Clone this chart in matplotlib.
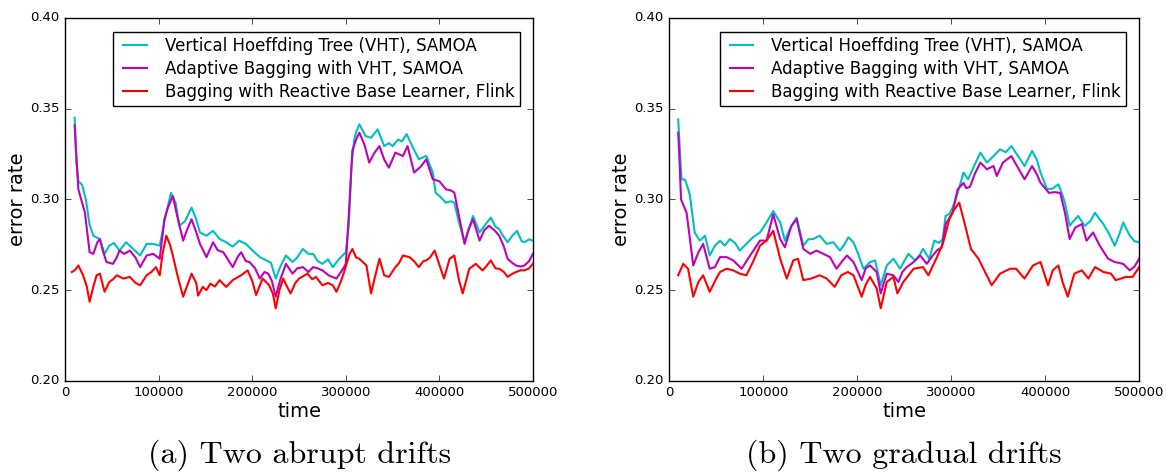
import matplotlib
matplotlib.use("Agg")
import matplotlib.pyplot as plt

plt.style.use("classic")
plt.rcParams["font.family"] = ["DejaVu Sans"]

labels = [
    "Vertical Hoeffding Tree (VHT), SAMOA",
    "Adaptive Bagging with VHT, SAMOA",
    "Bagging with Reactive Base Learner, Flink",
]
captions = ["(a) Two abrupt drifts", "(b) Two gradual drifts"]

# (a) abrupt drifts
a_vht_t = [10000, 12000, 14000, 18000, 22000, 26000, 30000, 37000, 42000, 47000,
           52000, 58000, 65000, 72000, 80000, 87000, 94000, 101000, 106000, 113000,
           118000, 122000, 128000, 135000, 140000, 144000, 151000, 158000, 165000, 172000,
           179000, 186000, 193000, 200000, 208000, 215000, 220000, 225000, 230000, 236000,
           243000, 248000, 254000, 260000, 265000, 270000, 275000, 281000, 286000, 293000,
           300000, 303000, 306000, 309000, 311000, 314500, 318000, 321000, 327000, 334000,
           341000, 346000, 350000, 356000, 360000, 365000, 371000, 378000, 386000, 393000,
           396000, 400000, 407000, 412000, 416000, 421000, 427000, 431000, 436000, 443000,
           449000, 455000, 460000, 464000, 468000, 473000, 478000, 483000, 488000, 491000,
           496000, 500000]
a_vht = [0.345, 0.320, 0.310, 0.308, 0.300, 0.286, 0.280, 0.278, 0.270, 0.2745,
         0.276, 0.2718, 0.2764, 0.273, 0.2691, 0.2755, 0.2755, 0.2745, 0.288, 0.3036,
         0.298, 0.2855, 0.288, 0.2955, 0.289, 0.2818, 0.280, 0.2827, 0.2782, 0.2764,
         0.274, 0.2773, 0.2755, 0.272, 0.2682, 0.2664, 0.265, 0.2564, 0.263, 0.2691,
         0.2655, 0.268, 0.2727, 0.270, 0.270, 0.266, 0.2645, 0.267, 0.2627, 0.2673,
         0.2709, 0.285, 0.318, 0.333, 0.337, 0.3414, 0.338, 0.3349, 0.334, 0.3386,
         0.3294, 0.331, 0.3294, 0.333, 0.332, 0.336, 0.3294, 0.3221, 0.324, 0.3148,
         0.3036, 0.302, 0.2982, 0.299, 0.2982, 0.2873, 0.2764, 0.283, 0.2909, 0.2818,
         0.286, 0.290, 0.285, 0.2836, 0.280, 0.2764, 0.280, 0.2827, 0.277, 0.2764,
         0.278, 0.2773]

a_bag_t = [10000, 12000, 14000, 17000, 21000, 26000, 30000, 34000, 37000, 40000,
           44000, 51000, 55000, 58000, 63000, 69000, 75000, 80000, 87000, 94000,
           101000, 106000, 110000, 115000, 120000, 126000, 130000, 135000, 140000, 144000,
           151000, 158000, 163000, 169000, 175000, 179000, 184000, 188000, 193000, 197000,
           203000, 208000, 213000, 217000, 221000, 225000, 230000, 236000, 243000, 248000,
           254000, 260000, 265000, 270000, 275000, 282000, 290000, 297000, 300000, 303000,
           307000, 311000, 314500, 320000, 325000, 331000, 336000, 341000, 346000, 353000,
           361000, 366000, 373000, 380000, 386000, 393000, 400000, 407000, 412000, 416000,
           421000, 427000, 431000, 436000, 443000, 448000, 453000, 459000, 464000, 469000,
           473000, 478000, 482000, 487000, 491000, 496000, 500000]
a_bag = [0.3408, 0.322, 0.3055, 0.300, 0.2927, 0.2709, 0.270, 0.276, 0.2782, 0.272,
         0.2655, 0.2645, 0.268, 0.2718, 0.270, 0.2718, 0.268, 0.2627, 0.2691, 0.270,
         0.2673, 0.2891, 0.296, 0.3018, 0.290, 0.2773, 0.283, 0.2891, 0.282, 0.2755,
         0.2682, 0.2764, 0.272, 0.2709, 0.266, 0.2627, 0.268, 0.2709, 0.266, 0.2655,
         0.262, 0.2564, 0.260, 0.2591, 0.255, 0.2464, 0.256, 0.2645, 0.2591, 0.262,
         0.2627, 0.260, 0.2627, 0.262, 0.2609, 0.258, 0.2564, 0.2618, 0.2645, 0.290,
         0.327, 0.333, 0.3368, 0.330, 0.3203, 0.326, 0.3294, 0.322, 0.3175, 0.3258,
         0.3239, 0.3294, 0.3148, 0.318, 0.3221, 0.3111, 0.310, 0.3056, 0.305, 0.3038,
         0.2909, 0.2755, 0.283, 0.2891, 0.2773, 0.283, 0.2855, 0.283, 0.280, 0.274,
         0.2673, 0.265, 0.2636, 0.263, 0.2636, 0.266, 0.270]

a_flink_t = [7000, 10000, 14000, 19000, 23000, 26000, 30000, 33500, 37000, 42000,
             47000, 51000, 55000, 62000, 69000, 75000, 80000, 87000, 92000, 97000,
             101000, 104000, 108000, 112000, 115000, 120000, 126000, 130000, 135000, 140000,
             142000, 147000, 151000, 155000, 160000, 165000, 172000, 179000, 184000, 188000,
             195000, 200000, 204000, 211000, 218000, 222000, 225000, 229000, 233000, 237000,
             241000, 246000, 250000, 259000, 264000, 268000, 275000, 281000, 286000, 290000,
             294000, 297000, 304000, 307000, 311000, 314500, 322000, 327000, 331000, 336000,
             341000, 346000, 353000, 357000, 361000, 368000, 373000, 378000, 383000, 386000,
             390000, 395000, 400000, 405000, 411000, 416000, 421000, 425000, 432000, 439000,
             446000, 450000, 455000, 460000, 464000, 469000, 473000, 478000, 482000, 487000,
             491000, 496000, 500000]
a_flink = [0.260, 0.2609, 0.2636, 0.2582, 0.252, 0.2436, 0.252, 0.2582, 0.2591, 0.2491,
           0.2545, 0.256, 0.2582, 0.2564, 0.2573, 0.254, 0.2527, 0.2582, 0.260, 0.2627,
           0.2582, 0.270, 0.280, 0.275, 0.2691, 0.258, 0.2464, 0.252, 0.2591, 0.254,
           0.247, 0.2518, 0.250, 0.2536, 0.252, 0.2555, 0.2518, 0.2555, 0.257, 0.2582,
           0.2609, 0.255, 0.2473, 0.2564, 0.2527, 0.248, 0.240, 0.250, 0.2564, 0.252,
           0.2482, 0.254, 0.2564, 0.2591, 0.256, 0.2573, 0.2527, 0.254, 0.2527, 0.2491,
           0.254, 0.2582, 0.270, 0.2727, 0.268, 0.2673, 0.2636, 0.2482, 0.257, 0.2673,
           0.2582, 0.2573, 0.2627, 0.265, 0.2691, 0.2682, 0.266, 0.2627, 0.266, 0.2664,
           0.268, 0.2718, 0.264, 0.2564, 0.2673, 0.2691, 0.2555, 0.2482, 0.2618, 0.2645,
           0.2609, 0.263, 0.2664, 0.262, 0.2618, 0.260, 0.2573, 0.259, 0.260, 0.261,
           0.2609, 0.262, 0.2645]

# (b) gradual drifts
b_vht_t = [9500, 11500, 13000, 16600, 20000, 22000, 27000, 32500, 38000, 43000,
           48500, 54000, 59000, 64500, 70000, 75000, 82000, 89000, 96500, 103500,
           110600, 118000, 123000, 128000, 135500, 142600, 148000, 153000, 160000, 167500,
           174600, 181600, 186000, 190600, 196000, 201000, 206500, 213600, 219000, 225000,
           231400, 238500, 245600, 250000, 254400, 261500, 266000, 270000, 276600, 282000,
           287000, 291000, 294000, 298000, 301500, 306800, 310000, 313000, 318000, 324000,
           331000, 338000, 345000, 352000, 358000, 364000, 371000, 378000, 386000, 391000,
           395000, 402000, 408000, 414000, 418000, 421000, 426000, 430000, 435000, 442000,
           448000, 453000, 458000, 462000, 468000, 474000, 479000, 483000, 490000, 495000,
           500000]
b_vht = [0.3441, 0.325, 0.3111, 0.3109, 0.306, 0.302, 0.2818, 0.2773, 0.280, 0.2691,
         0.2745, 0.2773, 0.2745, 0.2782, 0.276, 0.2718, 0.2755, 0.2791, 0.2818, 0.2873,
         0.2936, 0.2873, 0.2773, 0.2836, 0.290, 0.2745, 0.278, 0.2782, 0.280, 0.2755,
         0.2764, 0.2718, 0.275, 0.2791, 0.2764, 0.270, 0.2618, 0.2655, 0.2664, 0.2527,
         0.2636, 0.2673, 0.2618, 0.266, 0.270, 0.2664, 0.269, 0.2727, 0.2673, 0.2773,
         0.276, 0.2782, 0.2909, 0.292, 0.2955, 0.3036, 0.3091, 0.3148, 0.3111, 0.318,
         0.3258, 0.3203, 0.3239, 0.3276, 0.326, 0.3294, 0.3239, 0.3184, 0.3267, 0.322,
         0.3148, 0.3056, 0.306, 0.3083, 0.303, 0.2982, 0.2855, 0.288, 0.2909, 0.2855,
         0.288, 0.2927, 0.289, 0.2864, 0.281, 0.2745, 0.281, 0.2873, 0.280, 0.277,
         0.2764]

b_bag_t = [9500, 11000, 12500, 18400, 22000, 25500, 31000, 36000, 43000, 48500,
           54000, 61000, 68000, 77000, 86000, 96500, 103500, 110600, 118000, 123000,
           130000, 135500, 142600, 150000, 156600, 164000, 171000, 178000, 184000, 189000,
           196000, 204700, 209000, 213600, 220700, 225000, 231400, 238500, 243800, 248000,
           252700, 260000, 267000, 274000, 279000, 285000, 290000, 294000, 301500, 306800,
           313000, 316000, 320000, 325000, 331000, 338000, 345000, 348500, 355000, 364000,
           370000, 378000, 386000, 391000, 395000, 404000, 410000, 416000, 421000, 426000,
           432000, 439000, 444000, 451000, 458000, 467000, 474000, 483000, 490000, 495000,
           500000]
b_bag = [0.3368, 0.320, 0.300, 0.2927, 0.278, 0.2636, 0.2709, 0.2755, 0.2618, 0.2627,
         0.2682, 0.2682, 0.2664, 0.2618, 0.2691, 0.2773, 0.2773, 0.2918, 0.2782, 0.2736,
         0.2855, 0.2891, 0.2727, 0.270, 0.2718, 0.270, 0.2682, 0.2618, 0.266, 0.2691,
         0.2655, 0.2555, 0.262, 0.2636, 0.260, 0.2482, 0.2591, 0.2582, 0.2545, 0.260,
         0.2627, 0.2655, 0.2691, 0.2645, 0.2682, 0.272, 0.2736, 0.2864, 0.2927, 0.3055,
         0.3091, 0.3062, 0.307, 0.314, 0.3203, 0.3166, 0.3184, 0.3129, 0.3203, 0.3239,
         0.3184, 0.3111, 0.3184, 0.314, 0.3092, 0.3036, 0.304, 0.3036, 0.2927, 0.2782,
         0.2845, 0.2864, 0.2773, 0.2818, 0.2745, 0.2673, 0.2655, 0.2645, 0.2609, 0.263,
         0.2673]

b_flink_t = [9500, 14800, 20000, 25500, 31000, 36000, 43000, 50000, 54000, 61000,
             68000, 75000, 82000, 89000, 96500, 103500, 110600, 118000, 125000, 132000,
             137000, 142600, 151000, 160000, 167500, 176000, 183000, 190000, 196000, 204700,
             209000, 213600, 220700, 225000, 231400, 238500, 242700, 249000, 260000, 270000,
             275700, 284000, 291000, 298000, 303200, 308500, 314000, 321000, 329000, 336000,
             343000, 352000, 362600, 369000, 378000, 387000, 395000, 403000, 408000, 414000,
             418500, 424000, 431000, 439000, 446000, 453000, 462000, 470000, 475000, 486000,
             493000, 500000]
b_flink = [0.2582, 0.2645, 0.2618, 0.2464, 0.2545, 0.2582, 0.2491, 0.2564, 0.260, 0.2618,
           0.2609, 0.2591, 0.2582, 0.2655, 0.2745, 0.2773, 0.2827, 0.2673, 0.2564, 0.2664,
           0.2673, 0.2555, 0.2564, 0.2582, 0.2564, 0.2518, 0.2582, 0.260, 0.2582, 0.2464,
           0.253, 0.2573, 0.2509, 0.240, 0.2545, 0.2573, 0.2482, 0.2545, 0.2618, 0.2627,
           0.2582, 0.2673, 0.2755, 0.2891, 0.2945, 0.2982, 0.2873, 0.2727, 0.2673, 0.260,
           0.2527, 0.2591, 0.2618, 0.2618, 0.2564, 0.2636, 0.2655, 0.2527, 0.2609, 0.2636,
           0.2545, 0.2464, 0.2591, 0.2609, 0.2564, 0.2627, 0.260, 0.2591, 0.2555, 0.2573,
           0.2573, 0.2627]

fig = plt.figure(figsize=(11.66, 4.72), dpi=100, facecolor="white")
ax1 = fig.add_axes([0.056, 0.193, 0.401, 0.769])
ax2 = fig.add_axes([0.574, 0.193, 0.403, 0.769])

panels = [
    (ax1, [(a_vht_t, a_vht), (a_bag_t, a_bag), (a_flink_t, a_flink)], captions[0]),
    (ax2, [(b_vht_t, b_vht), (b_bag_t, b_bag), (b_flink_t, b_flink)], captions[1]),
]
colors = ["c", "m", "r"]

for ax, series, cap in panels:
    for (t, v), c, lab in zip(series, colors, labels):
        ax.plot(t, v, color=c, linewidth=1.5, label=lab)
    ax.set_xlim(0, 500000)
    ax.set_ylim(0.20, 0.40)
    ax.set_xticks([0, 100000, 200000, 300000, 400000, 500000])
    ax.set_yticks([0.20, 0.25, 0.30, 0.35, 0.40])
    ax.set_yticklabels(["0.20", "0.25", "0.30", "0.35", "0.40"])
    ax.tick_params(labelsize=9.5)
    ax.set_xlabel("time", fontsize=14, labelpad=2)
    ax.set_ylabel("error rate", fontsize=14, labelpad=2)
    ax.set_facecolor("white")
    leg = ax.legend(loc="upper right", fontsize=12, handlelength=2.0,
                    borderpad=0.3, labelspacing=0.3, handletextpad=0.8,
                    fancybox=False, bbox_to_anchor=(0.99, 0.985))
    leg.get_frame().set_edgecolor("black")
    ax.text(0.5, -0.205, cap, transform=ax.transAxes, ha="center", va="center",
            fontsize=23, family="cmr10")

fig.savefig("out.png", dpi=100, facecolor="white")
